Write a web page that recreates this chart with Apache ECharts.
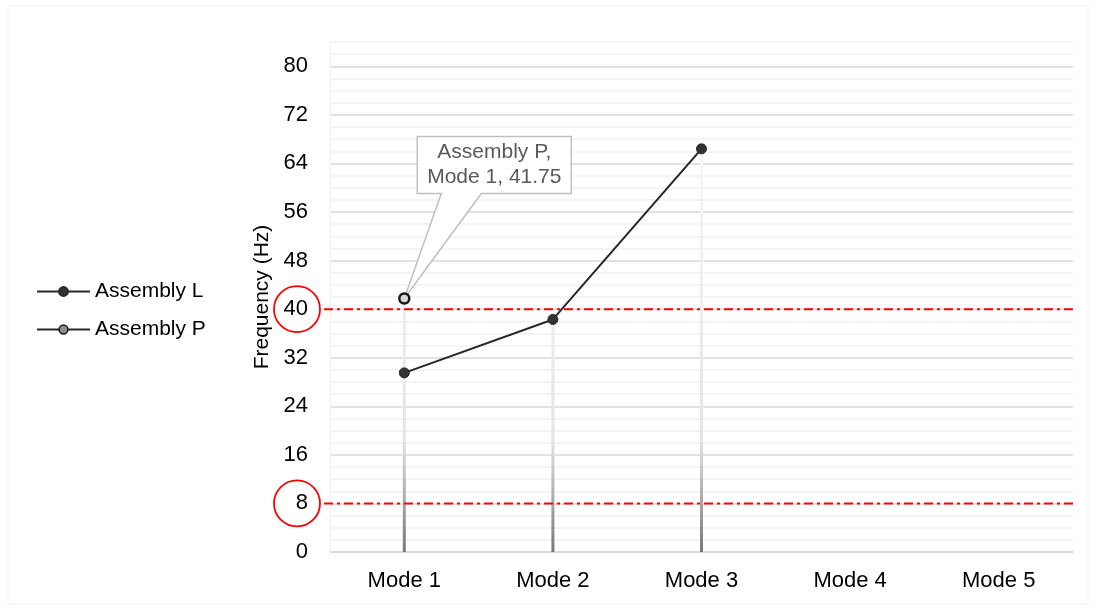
<!DOCTYPE html>
<html>
<head>
<meta charset="utf-8">
<script src="https://cdn.jsdelivr.net/npm/echarts@6/dist/echarts.min.js"></script>
<style>
  html, body { margin: 0; padding: 0; background: #fff; }
  #chart { width: 1096px; height: 610px; }
</style>
</head>
<body>
<div id="chart"></div>
<script>
// Natural frequencies per mode for the two assemblies
const categories = ['Mode 1', 'Mode 2', 'Mode 3', 'Mode 4', 'Mode 5'];
const assemblyL = [29.5, 38.3, 66.4, null, null];
const assemblyP = [41.75, null, null, null, null];
// Limits highlighted on the frequency axis
const limits = [40, 8];
const yMax = 84;
const yStep = 2;
const labelStep = 8;

// Drop lines reach the highest point in each mode
const dropValues = categories.map((_, i) => {
  const vals = [assemblyL[i], assemblyP[i]].filter(v => v != null);
  return vals.length ? Math.max(...vals) : null;
});

const FONT = '"Liberation Sans", Arial, sans-serif';
const chart = echarts.init(document.getElementById('chart'));

const option = {
  animation: false,
  backgroundColor: '#fff',
  textStyle: { fontFamily: FONT },
  grid: { left: 330, right: 23, top: 42, bottom: 58, containLabel: false },
  legend: {
    orient: 'vertical',
    left: 31,
    top: 276,
    itemWidth: 53,
    itemHeight: 11,
    itemGap: 17,
    data: [
      { name: 'Assembly L' },
      { name: 'Assembly P', itemStyle: { color: '#8c8c8c', borderColor: '#1a1a1a', borderWidth: 1.5 } }
    ],
    textStyle: { fontSize: 21, color: '#000', fontFamily: FONT }
  },
  xAxis: {
    type: 'category',
    data: categories,
    boundaryGap: true,
    axisLine: { show: true, lineStyle: { color: '#d9d9d9', width: 1.5 } },
    axisTick: { show: false },
    axisLabel: { fontSize: 22, color: '#000', margin: 18, fontFamily: FONT },
    splitLine: { show: false }
  },
  yAxis: {
    type: 'value',
    min: 0,
    max: yMax,
    interval: yStep,
    name: 'Frequency (Hz)',
    nameLocation: 'middle',
    nameGap: 54,
    nameTextStyle: { fontSize: 21, color: '#000', fontFamily: FONT },
    axisLine: { show: true, lineStyle: { color: '#f2f2f2' } },
    axisTick: { show: false },
    axisLabel: {
      showMaxLabel: false,
      formatter: v => (v % labelStep === 0 ? String(v) : ''),
      fontSize: 22,
      color: '#000',
      margin: 22,
      fontFamily: FONT
    },
    splitLine: {
      show: true,
      lineStyle: { color: ['#d9d9d9', '#f0f0f0', '#f0f0f0', '#f0f0f0'], width: 1.5 }
    }
  },
  series: [
    {
      name: 'drop',
      type: 'bar',
      data: dropValues,
      barWidth: 3,
      silent: true,
      z: 1,
      itemStyle: { color: '#e8e8e8' }
    },
    {
      name: 'Assembly L',
      type: 'line',
      data: assemblyL,
      symbol: 'circle',
      symbolSize: 10,
      z: 3,
      lineStyle: { color: '#262626', width: 2 },
      itemStyle: { color: '#333333', borderColor: '#262626', borderWidth: 1 }
    },
    {
      name: 'Assembly P',
      type: 'line',
      data: assemblyP,
      symbol: 'circle',
      symbolSize: 10,
      z: 4,
      lineStyle: { color: '#262626', width: 2 },
      itemStyle: { color: '#d9d9d9', borderColor: '#1a1a1a', borderWidth: 2.5 }
    }
  ]
};

chart.setOption(option);

// Pixel helpers from the chart's own scales
const yPx = v => chart.convertToPixel({ yAxisIndex: 0 }, v);
const xPx = c => chart.convertToPixel({ xAxisIndex: 0 }, c);
const plotTop = yPx(yMax);
const plotBottom = yPx(0);
const plotLeft = 330;
const plotRight = 1096 - 23;

// Drop lines fade from white near the top to gray at the base
chart.setOption({
  series: [{
    name: 'drop',
    itemStyle: {
      color: new echarts.graphic.LinearGradient(0, plotTop, 0, plotBottom, [
        { offset: 0, color: '#ffffff' },
        { offset: 0.78, color: '#e4e4e4' },
        { offset: 1, color: '#777777' }
      ], true)
    }
  }]
});

const graphics = [];

// Dash-dot limit lines with circled axis labels
limits.forEach(v => {
  const y = yPx(v);
  graphics.push({
    type: 'line',
    z: 5,
    shape: { x1: plotLeft - 6, y1: y, x2: plotRight + 3, y2: y },
    style: { stroke: '#ff0000', lineWidth: 2, lineDash: [9, 4, 3, 4] }
  });
  graphics.push({
    type: 'circle',
    z: 5,
    shape: { cx: plotLeft - 33, cy: y, r: 23 },
    style: { fill: 'none', stroke: '#ff0000', lineWidth: 1.8 }
  });
});

// Callout for the Assembly P point in Mode 1
const px = xPx(categories[0]);
const py = yPx(assemblyP[0]);
const bx0 = px + 13, bx1 = px + 167, by0 = py - 162, by1 = py - 105;
graphics.push({
  type: 'polygon',
  z: 2,
  shape: {
    points: [
      [px, py], [px + 37, by1], [bx0, by1], [bx0, by0],
      [bx1, by0], [bx1, by1], [px + 77, by1]
    ]
  },
  style: { fill: '#ffffff', stroke: '#bfbfbf', lineWidth: 1.5 }
});
graphics.push({
  type: 'text',
  z: 2,
  x: (bx0 + bx1) / 2,
  y: (by0 + by1) / 2,
  style: {
    text: 'Assembly P,\n' + categories[0] + ', ' + assemblyP[0],
    fill: '#595959',
    font: '21px ' + FONT,
    align: 'center',
    verticalAlign: 'middle',
    lineHeight: 25
  }
});

// Faint frame around the whole figure
graphics.push({
  type: 'rect',
  z: 0,
  shape: { x: 8, y: 6, width: 1080, height: 598 },
  style: { fill: 'none', stroke: '#f2f2f2', lineWidth: 1 }
});

chart.setOption({ graphic: graphics });
</script>
</body>
</html>
